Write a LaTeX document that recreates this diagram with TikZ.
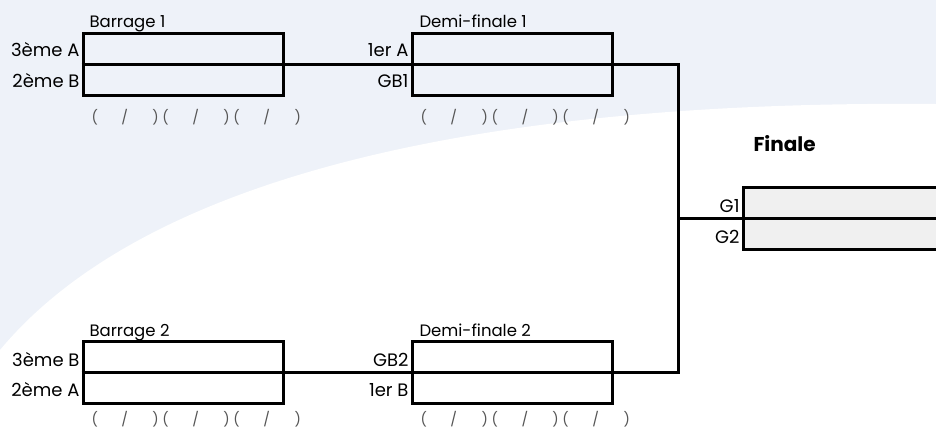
\documentclass[tikz,border=0pt]{standalone}
\usepackage{fontspec}
\setmainfont{Poppins}

\definecolor{bgblue}{RGB}{238,242,249}
\definecolor{fingray}{RGB}{240,240,240}
\definecolor{scoregray}{RGB}{85,85,85}
\newcommand{\scoregroup}{\makebox[30pt][l]{(}\makebox[31pt][l]{/}\makebox[10pt][l]{)}}
\newcommand{\scoreline}{\scoregroup\scoregroup\scoregroup}

\begin{document}
\begin{tikzpicture}[x=1pt,y=-1pt,line width=3pt,
  match/.style={draw,minimum width=200pt,minimum height=62pt,inner sep=0pt},
  finbox/.style={draw,fill=fingray,minimum width=300pt,minimum height=62pt,inner sep=0pt},
  team/.style={anchor=base east,inner sep=0pt,font=\fontsize{18}{18}\selectfont},
  roundname/.style={anchor=base west,inner sep=0pt,font=\fontsize{16.5}{16.5}\selectfont},
  score/.style={anchor=west,inner sep=0pt,text=scoregray,font=\fontsize{14}{14}\selectfont}]
 % background
 \clip (0,0) rectangle (936,429);
 \fill[bgblue] (0,0) rectangle (936,429);
 \fill[white] (936,104) .. controls (500,100) and (150,170) .. (0,350) -- (0,429) -- (936,429) -- cycle;

 % boxes
 \node[match] (b1) at (183,64) {};
 \node[match] (d1) at (512,64) {};
 \node[match] (b2) at (183,372) {};
 \node[match] (d2) at (512,372) {};
 \node[finbox] (fin) at (893,218) {};
 \foreach \m in {b1,d1,b2,d2,fin}
  \draw (\m.west) -- (\m.east);

 % connectors
 \coordinate (join) at (678,218);
 \draw (b1.east) -- (d1.west);
 \draw (b2.east) -- (d2.west);
 \draw (d1.east) -| (join) |- (d2.east);
 \draw (join) -- (fin.west);

 % titles
 \node[roundname] (b1h) at (88,27) {Barrage 1};
 \node[roundname] (d1h) at (418,27) {Demi-finale 1};
 \node[roundname] (b2h) at (88,336) {Barrage 2};
 \node[roundname] (d2h) at (418,336) {Demi-finale 2};
 \node[anchor=base west,inner sep=0pt,font=\bfseries\fontsize{20}{20}\selectfont] (finh) at (752,151) {Finale};

 % teams
 \node[team] (b1a) at (81,56) {3ème A};
 \node[team] (b1b) at (81,87) {2ème B};
 \node[team] (d1a) at (410,56) {1er A};
 \node[team] (d1b) at (410,87) {GB1};
 \node[team] (b2a) at (81,366) {3ème B};
 \node[team] (b2b) at (81,396) {2ème A};
 \node[team] (d2a) at (410,366) {GB2};
 \node[team] (d2b) at (410,396) {1er B};
 \node[team] (fina) at (741,212) {G1};
 \node[team] (finb) at (741,243) {G2};

 % scores
 \node[score] (b1s) at (90,117) {\scoreline};
 \node[score] (d1s) at (419,117) {\scoreline};
 \node[score] (b2s) at (90,419) {\scoreline};
 \node[score] (d2s) at (419,419) {\scoreline};
\end{tikzpicture}
\end{document}
